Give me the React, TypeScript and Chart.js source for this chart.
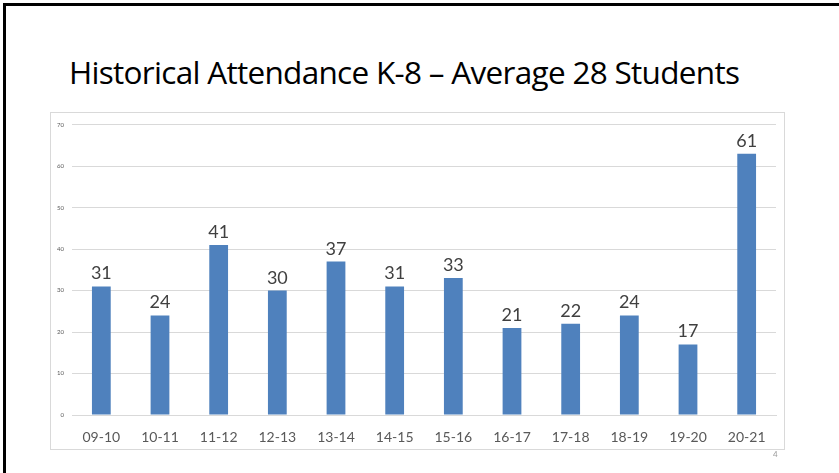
import React, { useEffect, useRef } from "react";
import { Chart, registerables } from "chart.js";

Chart.register(...registerables);

const titleText = "Historical Attendance K-8 – Average 28 Students";
const categories = ["09-10", "10-11", "11-12", "12-13", "13-14", "14-15", "15-16", "16-17", "17-18", "18-19", "19-20", "20-21"];
const barValues = [31, 24, 41, 30, 37, 31, 33, 21, 22, 24, 17, 63];
const dataLabels = ["31", "24", "41", "30", "37", "31", "33", "21", "22", "24", "17", "61"];
const yMin = 0;
const yMax = 70;
const yStep = 10;
const pageNumber = "4";

const barColor = "#4F81BD";
const gridColor = "#d9d9d9";
const FONT = "Lato, 'Open Sans', sans-serif";

const dataLabelPlugin = {
  id: "dataLabelPlugin",
  afterDatasetsDraw(chart: any) {
    const ctx = chart.ctx;
    const meta = chart.getDatasetMeta(0);
    ctx.save();
    ctx.fillStyle = "#404040";
    ctx.font = `18px ${FONT}`;
    ctx.textAlign = "center";
    ctx.textBaseline = "alphabetic";
    meta.data.forEach((bar: any, i: number) => {
      ctx.fillText(dataLabels[i], bar.x, bar.y - 7);
    });
    ctx.restore();
  },
};

export default function App() {
  const canvasRef = useRef<HTMLCanvasElement | null>(null);

  useEffect(() => {
    if (!canvasRef.current) return;
    const chart = new Chart(canvasRef.current, {
      type: "bar",
      data: {
        labels: categories,
        datasets: [
          {
            data: barValues,
            backgroundColor: barColor,
            borderWidth: 0,
            categoryPercentage: 1,
            barPercentage: 0.32,
          },
        ],
      },
      options: {
        animation: false,
        responsive: false,
        maintainAspectRatio: false,
        devicePixelRatio: 1,
        layout: { padding: { top: 10, right: 9, left: 0, bottom: 0 } },
        plugins: {
          legend: { display: false },
          title: { display: false },
          tooltip: { enabled: false },
        },
        scales: {
          x: {
            grid: { display: false, drawTicks: false },
            border: { display: true, color: gridColor, width: 1 },
            ticks: {
              color: "#595959",
              font: { family: FONT, size: 14 },
              padding: 14,
              maxRotation: 0,
              autoSkip: false,
            },
            afterFit(scale: any) {
              scale.height = 35;
            },
          },
          y: {
            min: yMin,
            max: yMax,
            grid: { color: gridColor, lineWidth: 1, drawTicks: false },
            border: { display: false },
            ticks: {
              stepSize: yStep,
              color: "#595959",
              font: { family: FONT, size: 6 },
              padding: 8,
            },
            afterFit(scale: any) {
              scale.width = 22;
            },
          },
        },
      },
      plugins: [dataLabelPlugin],
    });
    return () => chart.destroy();
  }, []);

  return (
    <div
      style={{
        position: "fixed",
        left: 0,
        top: 0,
        width: 839,
        height: 473,
        background: "#fff",
        overflow: "hidden",
      }}
    >
      <div
        style={{
          position: "absolute",
          left: 3,
          top: 3,
          width: 860,
          height: 500,
          borderTop: "3px solid #000",
          borderLeft: "3px solid #000",
        }}
      />
      <div
        style={{
          position: "absolute",
          left: 69,
          top: 52,
          fontFamily: "'Open Sans', Lato, sans-serif",
          fontSize: 31.5,
          lineHeight: "40px",
          color: "#000",
          whiteSpace: "nowrap",
          letterSpacing: -0.7,
        }}
      >
        {titleText}
      </div>
      <div
        style={{
          position: "absolute",
          left: 50,
          top: 112,
          width: 735,
          height: 338,
          border: `1px solid ${gridColor}`,
          boxSizing: "border-box",
        }}
      />
      <canvas
        ref={canvasRef}
        width={735}
        height={337}
        style={{ position: "absolute", left: 50, top: 113, width: 735, height: 337 }}
      />
      <div
        style={{
          position: "absolute",
          left: 773,
          top: 449,
          fontFamily: FONT,
          fontSize: 8,
          color: "#9a9a9a",
        }}
      >
        {pageNumber}
      </div>
    </div>
  );
}
